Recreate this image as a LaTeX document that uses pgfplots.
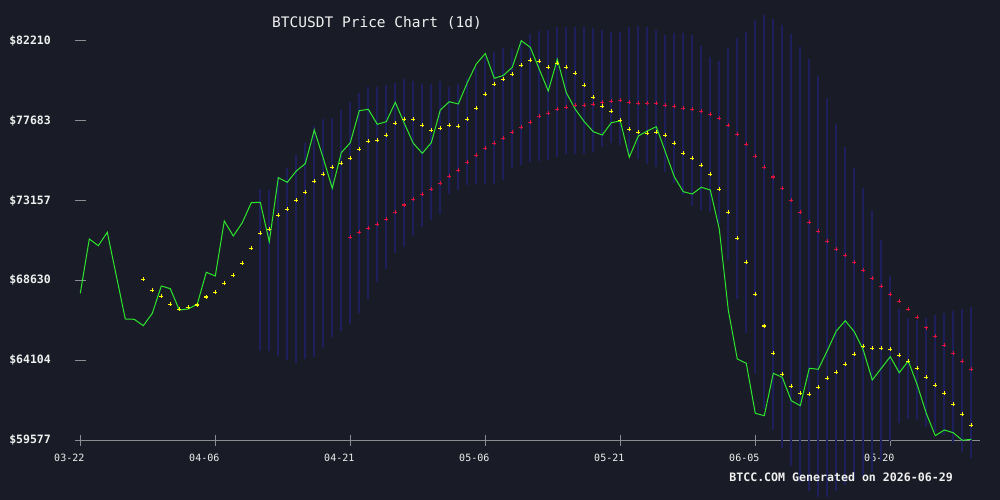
\documentclass[border=0pt]{standalone}
\usepackage{pgfplots}
\pgfplotsset{compat=1.18}
\usepackage{pgfplotstable}
\usepackage{fontspec}
\setmainfont{DejaVu Sans Mono}
\setmonofont{DejaVu Sans Mono}
\definecolor{bg}{RGB}{25,28,38}
\definecolor{stripe}{RGB}{28,31,92}
\definecolor{axgray}{RGB}{140,140,145}
\definecolor{txt}{RGB}{240,240,240}
\definecolor{grn}{RGB}{45,230,45}
\definecolor{ylw}{RGB}{255,255,0}
\definecolor{crim}{RGB}{220,20,60}

\pgfplotstableread{
d close
0 67903
1 70979
2 70599
3 71358
4 68900
5 66448
6 66430
7 66068
8 66770
9 68317
10 68164
11 66957
12 67014
13 67297
14 69093
15 68883
16 71998
17 71149
18 71902
19 73035
20 73057
21 70826
22 74451
23 74190
24 74830
25 75244
26 77152
27 75549
28 73850
29 75867
30 76433
31 78246
32 78325
33 77475
34 77623
35 78721
36 77532
37 76399
38 75833
39 76433
40 78285
41 78755
42 78625
43 79831
44 80891
45 81485
46 80081
47 80239
48 80704
49 82210
50 81837
51 80590
52 79361
53 81157
54 79265
55 78325
56 77623
57 77056
58 76869
59 77566
60 77662
61 75606
62 76813
63 77096
64 77339
65 75923
66 74507
67 73658
68 73527
69 73907
70 73754
71 71545
72 66957
73 64182
74 63938
75 61106
76 60970
77 63372
78 63145
79 61820
80 61537
81 63655
82 63598
83 64652
84 65768
85 66351
86 65728
87 64692
88 62992
89 63655
90 64312
91 63406
92 64069
93 62709
94 61106
95 59838
96 60160
97 60007
98 59577
99 59634
}\price

\pgfplotstableread{
d v
7 68696
8 68073
9 67733
10 67280
11 66997
12 67110
13 67240
14 67694
15 67960
16 68469
17 68923
18 69602
19 70452
20 71301
21 71528
22 72321
23 72661
24 73171
25 73624
26 74247
27 74643
28 75040
29 75266
30 75549
31 76059
32 76512
33 76569
34 76852
35 77532
36 77758
37 77758
38 77419
39 77135
40 77249
41 77419
42 77362
43 77758
44 78381
45 79174
46 79741
47 80024
48 80307
49 80817
50 81100
51 81044
52 80704
53 80930
54 80704
55 80364
56 79684
57 79005
58 78495
59 78212
60 77702
61 77192
62 77022
63 76965
64 77022
65 76852
66 76399
67 75833
68 75549
69 75153
70 74643
71 73794
72 72491
73 71018
74 69659
75 67846
76 66051
77 64505
78 63315
79 62636
80 62239
81 62182
82 62579
83 63089
84 63429
85 63882
86 64448
87 64901
88 64788
89 64788
90 64731
91 64391
92 64052
93 63655
94 63145
95 62692
96 62239
97 61616
98 61050
99 60427
}\mafast

\pgfplotstableread{
d v
30 71075
31 71358
32 71585
33 71811
34 72094
35 72491
36 72904
37 73227
38 73510
39 73794
40 74133
41 74530
42 74870
43 75323
44 75719
45 76116
46 76399
47 76682
48 77022
49 77305
50 77589
51 77928
52 78098
53 78325
54 78438
55 78551
56 78551
57 78608
58 78721
59 78778
60 78835
61 78721
62 78665
63 78665
64 78665
65 78551
66 78495
67 78381
68 78325
69 78212
70 78042
71 77815
72 77419
73 76909
74 76342
75 75663
76 75040
77 74490
78 73850
79 73171
80 72491
81 71925
82 71415
83 70848
84 70395
85 70055
86 69659
87 69206
88 68753
89 68300
90 67846
91 67450
92 66997
93 66544
94 65955
95 65468
96 64958
97 64505
98 64052
99 63598
}\maslow

\pgfplotstableread{
d mid half
20 69222 4578
21 69214 4566
22 69407 5080
23 69548 5435
24 69845 5889
25 70284 6118
26 70820 6537
27 71294 6465
28 71648 6206
29 72026 6268
30 72439 6285
31 73004 6243
32 73570 6015
33 74079 5508
34 74505 5210
35 74997 4838
36 75274 4752
37 75536 4377
38 75733 4047
39 75902 3862
40 76164 3763
41 76560 3032
42 76769 2998
43 77051 3035
44 77354 3287
45 77667 3597
46 77813 3737
47 78048 3729
48 78390 3364
49 78707 3544
50 78978 3633
51 79095 3682
52 79146 3667
53 79330 3683
54 79413 3599
55 79393 3618
56 79398 3610
57 79431 3510
58 79483 3320
59 79540 3143
60 79508 3205
61 79351 3619
62 79260 3775
63 79123 3879
64 78946 3864
65 78667 3893
66 78389 4231
67 78060 4611
68 77701 4843
69 77286 4645
70 76882 4390
71 76430 4624
72 75810 6005
73 74961 7383
74 74194 8528
75 73333 10029
76 72501 11167
77 71816 11634
78 71130 11975
79 70342 12246
80 69536 12335
81 68938 12258
82 68278 11909
83 67655 11285
84 67077 10390
85 66598 9566
86 66159 8852
87 65711 8169
88 65184 7408
89 64671 6250
90 64199 4659
91 63792 3219
92 63647 2878
93 63574 2825
94 63432 3080
95 63369 3313
96 63328 3446
97 63160 3737
98 62982 4050
99 62873 4282
}\band

\begin{document}
\begin{tikzpicture}[x=1pt,y=1pt]
\fill[bg] (0,0) rectangle (1000,500);
\begin{axis}[
  at={(75pt,59.7pt)}, anchor=south west,
  scale only axis, width=905pt, height=399.6pt,
  xmin=-0.589, xmax=99.97, ymin=59577, ymax=82210,
  clip=false,
  scaled y ticks=false, scaled x ticks=false,
  axis x line*=bottom, axis y line*=left,
  axis line style={draw=axgray, line width=1pt, -},
  y axis line style={draw=none},
  xtick={0,15,30,45,60,75,90},
  xticklabels={03-22,04-06,04-21,05-06,05-21,06-05,06-20},
  ytick={59577,64104,68630,73157,77683,82210},
  yticklabels={\$59577,\$64104,\$68630,\$73157,\$77683,\$82210},
  xtick align=center, ytick align=inside,
  major tick length=11pt,
  tick style={draw=axgray, line width=1pt},
  minor tick num=0,
  x tick label style={font=\fontsize{10}{12}\selectfont, text=txt, inner sep=0pt, anchor=north, xshift=-11pt, yshift=-8pt},
  y tick label style={font=\bfseries\fontsize{11.5}{13}\selectfont, text=txt, inner sep=0pt, anchor=east, xshift=-24pt},
]
\addplot[draw=none, mark=none, forget plot,
  error bars/.cd, y dir=both, y explicit, error mark=none,
  error bar style={line width=1.6pt, draw=stripe}]
  table[x=d, y=mid, y error=half]{\band};
\addplot[grn, line width=1pt, mark=none] table[x=d, y=close]{\price};
\addplot[only marks, mark=+, draw=ylw, mark size=2pt, mark options={draw=ylw, line width=1.2pt}] table[x=d, y=v]{\mafast};
\addplot[only marks, mark=+, draw=crim, mark size=2pt, mark options={draw=crim, line width=1.2pt}] table[x=d, y=v]{\maslow};
\end{axis}
\node[text=txt, inner sep=0pt, font=\fontsize{14.5}{16}\selectfont] at (377,477) {BTCUSDT Price Chart (1d)};
\node[text=txt, inner sep=0pt, anchor=east, font=\bfseries\fontsize{11.6}{13}\selectfont] at (953,23) {BTCC.COM Generated on 2026-06-29};
\pgfresetboundingbox
\path (0,0) rectangle (1000,500);
\end{tikzpicture}
\end{document}
